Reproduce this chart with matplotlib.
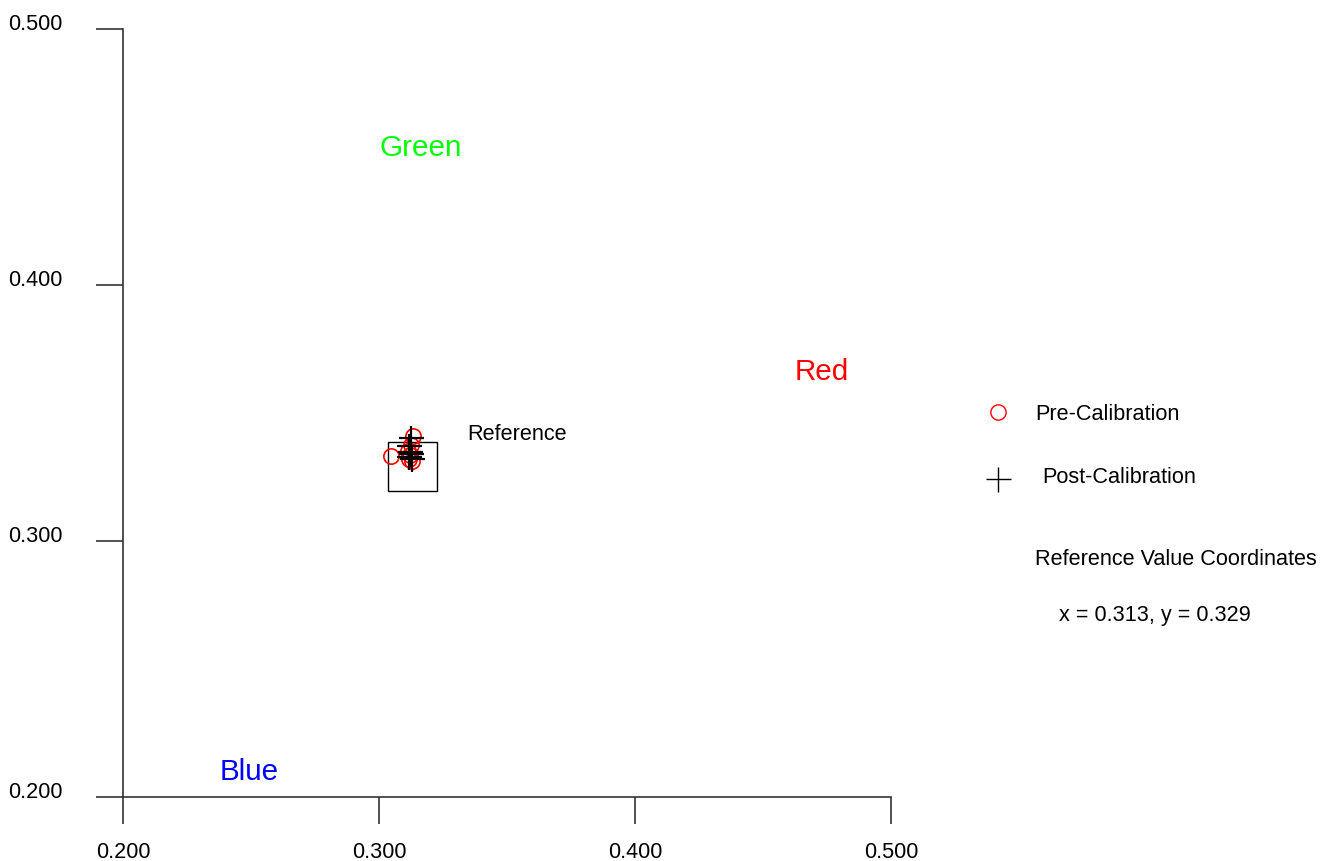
import matplotlib
matplotlib.use('Agg')
import matplotlib.pyplot as plt
from matplotlib import font_manager
from matplotlib.patches import Rectangle

# chromaticity readings (x, y)
pre_x = [0.3047, 0.3133, 0.3125, 0.3113, 0.3121, 0.3117, 0.3129]
pre_y = [0.3332, 0.3410, 0.3375, 0.3352, 0.3336, 0.3320, 0.3313]
post_x = [0.3125, 0.3117, 0.3121, 0.3125, 0.3117, 0.3129]
post_y = [0.3402, 0.3371, 0.3348, 0.3340, 0.3328, 0.3320]
ref_x, ref_y = 0.313, 0.329
ref_half = 0.0095
ticks = [0.2, 0.3, 0.4, 0.5]
tick_labels = ['0.200', '0.300', '0.400', '0.500']

names = {f.name for f in font_manager.fontManager.ttflist}
if 'Liberation Sans Narrow' in names:
    fam, k = 'Liberation Sans Narrow', 1.0
else:
    fam, k = 'Liberation Sans', 0.82
plt.rcParams['font.family'] = [fam, 'DejaVu Sans']
fs = 19 * k

fig = plt.figure(figsize=(13.27, 8.62), dpi=100)
ax = fig.add_axes([123/1327, 64/862, 768/1327, 768/862])
ax.set_xlim(0.2, 0.5)
ax.set_ylim(0.2, 0.5)

for s in ['top', 'right']:
    ax.spines[s].set_visible(False)
for s in ['left', 'bottom']:
    ax.spines[s].set_color('#333333')
    ax.spines[s].set_linewidth(1.2)

ax.set_xticks(ticks)
ax.set_yticks(ticks)
ax.set_xticklabels(tick_labels, fontsize=fs)
ax.set_yticklabels(tick_labels, fontsize=fs)
ax.tick_params(direction='out', length=19.5, width=1.2, color='#333333')
ax.tick_params(axis='x', pad=12)
ax.tick_params(axis='y', pad=24)
for lab in ax.get_yticklabels():
    lab.set_va('baseline')

ax.add_patch(Rectangle((ref_x - ref_half, ref_y - ref_half), 2 * ref_half, 2 * ref_half,
                       fill=False, ec='black', lw=1.0))
ax.plot(pre_x, pre_y, 'o', mfc='none', mec='red', ms=11, mew=1.2, ls='none')
ax.plot(post_x, post_y, '+', color='black', ms=18, mew=1.6, ls='none')

ax.text(0.3164, 0.4539, 'Green', color='#00ff00', fontsize=26 * k, ha='center', va='center')
ax.text(0.473, 0.3664, 'Red', color='#ff0000', fontsize=26 * k, ha='center', va='center')
ax.text(0.2492, 0.2102, 'Blue', color='#0000ff', fontsize=26 * k, ha='center', va='center')
ax.text(0.3344, 0.3418, 'Reference', fontsize=fs, ha='left', va='center')

# legend drawn by hand to the right of the plot
ax.plot([998/1327], [1 - 413/862], 'o', mfc='none', mec='red', ms=11, mew=1.0,
        transform=fig.transFigure, clip_on=False)
ax.plot([998/1327], [1 - 480/862], '+', color='black', ms=18, mew=1.0,
        transform=fig.transFigure, clip_on=False)
fig.text(1035/1327, 1 - 415/862, 'Pre-Calibration', fontsize=fs, va='center')
fig.text(1042/1327, 1 - 478/862, 'Post-Calibration', fontsize=fs, va='center')
fig.text(1035/1327, 1 - 560/862, 'Reference Value Coordinates', fontsize=fs, va='center')
fig.text(1059/1327, 1 - 616/862, 'x = 0.313, y = 0.329', fontsize=fs, va='center')

fig.savefig('out.png', dpi=100)
